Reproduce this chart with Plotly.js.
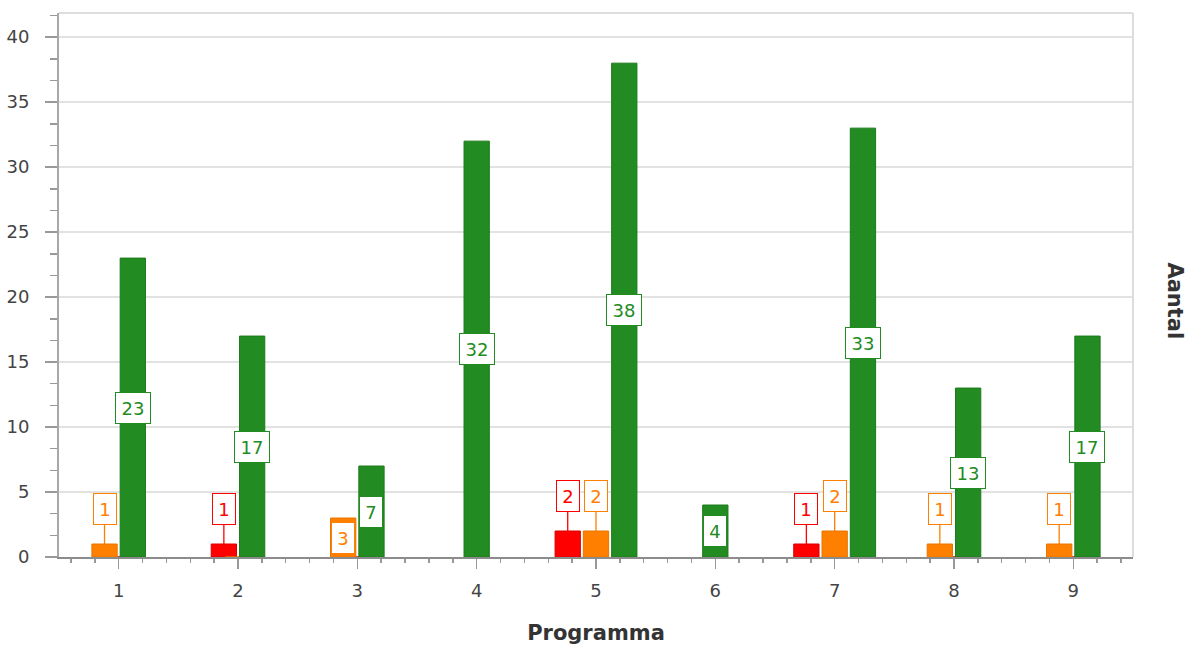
<!DOCTYPE html>
<html>
<head>
<meta charset="utf-8">
<script src="https://cdn.plot.ly/plotly-3.0.1.min.js"></script>
<style>
  html, body { margin: 0; padding: 0; background: #ffffff; }
  #chart { width: 1190px; height: 646px; }
</style>
</head>
<body>
<div id="chart"></div>
<script>
// ---- data ----
const categories = [1, 2, 3, 4, 5, 6, 7, 8, 9];
const redValues = [0, 1, 0, 0, 2, 0, 1, 0, 0];
const orangeValues = [1, 0, 3, 0, 2, 0, 2, 1, 1];
const greenValues = [23, 17, 7, 32, 38, 4, 33, 13, 17];
const xAxisTitle = 'Programma';
const yAxisTitle = 'Aantal';

// ---- styling ----
const series = [
  { vals: redValues, color: '#ff0000', edge: '#d80000' },
  { vals: orangeValues, color: '#ff8000', edge: '#e87400' },
  { vals: greenValues, color: '#228b22', edge: '#1c7a1c' }
];
const PITCH = 0.237;   // distance between neighbouring bars (axis units)
const BAR_W = 0.212;   // bar width (axis units)
const Y_MAX = 41.86;
const PLOT_H = 646 - 13 - 89;
const PX_PER_UNIT = PLOT_H / Y_MAX;
const BOX_H = 30;

// centre offset of series k in category i (zero bars are skipped, rest centred)
function centreOffset(k, i) {
  const nz = [];
  series.forEach((s, idx) => { if (s.vals[i] > 0) nz.push(idx); });
  const j = nz.indexOf(k);
  if (j < 0) return 0;
  return (j - (nz.length - 1) / 2) * PITCH;
}

const traces = series.map((s, k) => ({
  type: 'bar',
  x: categories,
  y: s.vals,
  width: BAR_W,
  offset: categories.map((c, i) => centreOffset(k, i) - BAR_W / 2),
  marker: { color: s.color, line: { color: s.edge, width: 1 } },
  hoverinfo: 'x+y',
  showlegend: false
}));

const annotations = [];
series.forEach((s, k) => {
  s.vals.forEach((v, i) => {
    if (!(v > 0)) return;
    const txt = String(v);
    const xc = categories[i] + centreOffset(k, i);
    const base = {
      x: xc, xref: 'x', yref: 'y',
      text: txt,
      font: { family: 'DejaVu Sans', size: 18, color: s.color },
      bgcolor: '#ffffff',
      bordercolor: s.color,
      borderwidth: 1,
      borderpad: 2,
      width: 12 * txt.length + 6,
      height: 26,
      align: 'center',
      valign: 'middle'
    };
    if (v * PX_PER_UNIT >= BOX_H + 2) {
      annotations.push(Object.assign(base, { y: v / 2, showarrow: false, xanchor: 'center', yanchor: 'middle' }));
    } else {
      annotations.push(Object.assign(base, {
        y: v, showarrow: true, arrowhead: 0, arrowwidth: 1.3, arrowcolor: s.color,
        ax: 0, ay: -35, standoff: 0, startstandoff: 0
      }));
    }
  });
});

annotations.push({
  text: yAxisTitle,
  xref: 'paper', yref: 'paper',
  x: 1.039, y: 0.47,
  xanchor: 'center', yanchor: 'middle',
  textangle: 90,
  showarrow: false,
  font: { family: 'DejaVu Sans', size: 21, color: '#333333', weight: 'bold' }
});

const layout = {
  width: 1190,
  height: 646,
  margin: { l: 59, r: 57, t: 13, b: 89, pad: 0 },
  paper_bgcolor: '#ffffff',
  plot_bgcolor: '#ffffff',
  font: { family: 'DejaVu Sans', size: 18, color: '#444444' },
  barmode: 'overlay',
  showlegend: false,
  xaxis: {
    range: [0.5, 9.5],
    tickmode: 'linear', tick0: 1, dtick: 1,
    ticks: 'outside', ticklen: 10, tickwidth: 1.5, tickcolor: '#999999',
    ticklabelstandoff: 6,
    showline: true, linecolor: '#8c8c8c', linewidth: 2,
    showgrid: false, zeroline: false,
    minor: { dtick: 0.2, ticks: 'outside', ticklen: 4, tickwidth: 1.5, tickcolor: '#999999', showgrid: false },
    title: { text: xAxisTitle, standoff: 26, font: { family: 'DejaVu Sans', size: 21, color: '#333333', weight: 'bold' } }
  },
  yaxis: {
    range: [0, Y_MAX],
    tickmode: 'linear', tick0: 0, dtick: 5,
    ticks: 'outside', ticklen: 12, tickwidth: 1.5, tickcolor: '#999999',
    ticklabelstandoff: 12,
    showline: true, linecolor: '#a8a8a8', linewidth: 2,
    showgrid: true, gridcolor: '#e2e2e2', gridwidth: 1.5,
    zeroline: false,
    minor: { dtick: 5 / 3, ticks: 'outside', ticklen: 7, tickwidth: 1.5, tickcolor: '#999999', showgrid: false }
  },
  shapes: [
    { type: 'line', xref: 'paper', yref: 'paper', x0: 0, x1: 1, y0: 1, y1: 1, line: { color: '#dddddd', width: 2 } },
    { type: 'line', xref: 'paper', yref: 'paper', x0: 1, x1: 1, y0: 0, y1: 1, line: { color: '#dddddd', width: 2 } }
  ],
  annotations: annotations
};

Plotly.newPlot('chart', traces, layout, { displayModeBar: false, staticPlot: true });
</script>
</body>
</html>
